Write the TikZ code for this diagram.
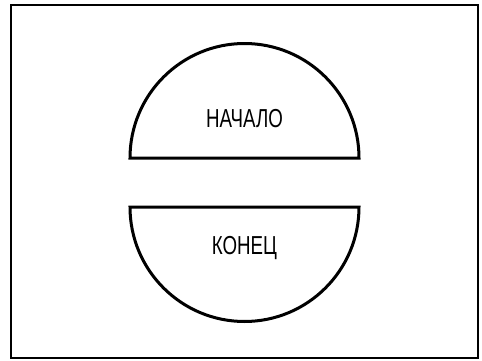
\documentclass[tikz,border=0pt]{standalone}
\usepackage{fontspec}
\setmainfont{Liberation Sans}
\usepackage{tikz}

\begin{document}
\begin{tikzpicture}[
  x=1pt, y=1pt,
  frame/.style={draw, line width=2pt},
  half/.style={draw, line width=3pt, line join=miter},
  every node/.style={inner sep=0pt, font=\fontsize{26}{28}\selectfont, xscale=0.72}
]
\useasboundingbox (0,0) rectangle (482,360);
\draw[frame] (11,2) rectangle (478,355);
% begin: upper half disc
\draw[half] (130,202) arc[start angle=180, end angle=0, radius=114.5] -- cycle;
\node (start) at (244.5,241) {НАЧАЛО};
% end: lower half disc
\draw[half] (130,153) arc[start angle=180, end angle=360, radius=114.5] -- cycle;
\node (stop) at (244.5,112) {КОНЕЦ};
\end{tikzpicture}
\end{document}
